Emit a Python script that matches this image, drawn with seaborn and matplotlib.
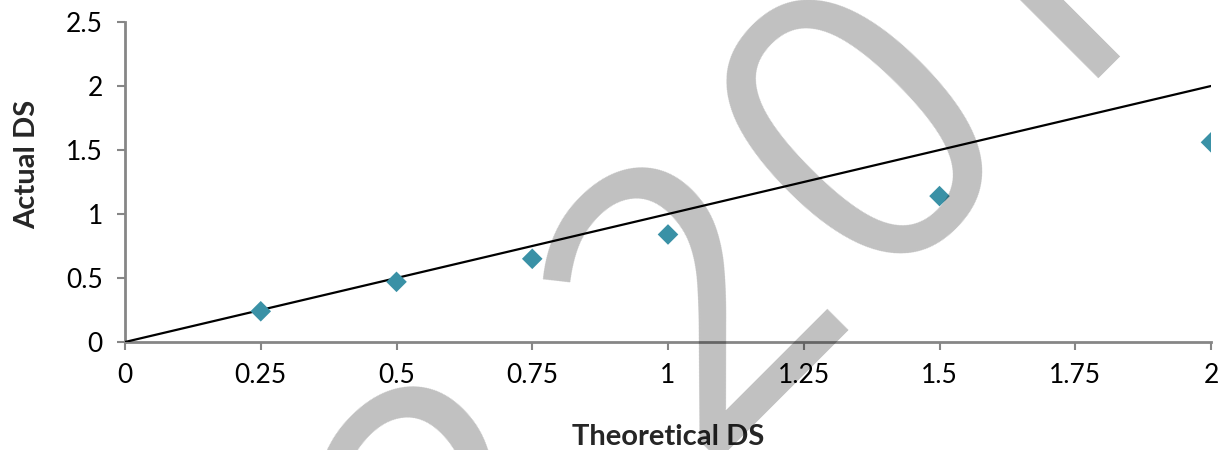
import matplotlib
matplotlib.use("Agg")
import matplotlib.pyplot as plt
import seaborn as sns
import pandas as pd

# Degree of substitution: theoretical vs. measured
theoretical_ds = [0.25, 0.5, 0.75, 1.0, 1.5, 2.0]
actual_ds = [0.24, 0.47, 0.65, 0.84, 1.14, 1.56]

# Reference line y = x
ref_x = [0.0, 2.0]
ref_y = [0.0, 2.0]

x_ticks = [0, 0.25, 0.5, 0.75, 1, 1.25, 1.5, 1.75, 2]
x_tick_labels = ["0", "0.25", "0.5", "0.75", "1", "1.25", "1.5", "1.75", "2"]
y_ticks = [0, 0.5, 1, 1.5, 2, 2.5]
y_tick_labels = ["0", "0.5", "1", "1.5", "2", "2.5"]

watermark_chars = ["2", "2", "0", "1", "7"]

sns.set_theme(style="white")
plt.rcParams["font.family"] = ["Lato", "DejaVu Sans"]

points = pd.DataFrame({"Theoretical DS": theoretical_ds, "Actual DS": actual_ds})
line = pd.DataFrame({"x": ref_x, "y": ref_y})

W, H = 1221, 450
fig = plt.figure(figsize=(W / 100, H / 100), dpi=100)
ax = fig.add_axes([125 / W, 1 - 342 / H, 1086 / W, 320 / H])

sns.lineplot(data=line, x="x", y="y", ax=ax, color="black", linewidth=1.6, zorder=2)
sns.scatterplot(data=points, x="Theoretical DS", y="Actual DS", ax=ax,
                marker="D", s=110, color="#3A91A6", edgecolor="none", zorder=3)

ax.set_xlim(0, 2)
ax.set_ylim(0, 2.5)
ax.set_xticks(x_ticks)
ax.set_xticklabels(x_tick_labels)
ax.set_yticks(y_ticks)
ax.set_yticklabels(y_tick_labels)

for side in ("top", "right"):
    ax.spines[side].set_visible(False)
for side in ("left", "bottom"):
    ax.spines[side].set_color("#868686")
    ax.spines[side].set_linewidth(2)
    ax.spines[side].set_zorder(1)

ax.tick_params(axis="both", which="major", direction="out", length=6, width=1.5,
               color="#868686", labelsize=19, labelcolor="black")
ax.tick_params(axis="x", bottom=True, pad=9)
ax.tick_params(axis="y", left=True, pad=10)

ax.set_xlabel("Theoretical DS", fontsize=21, fontweight="bold")
ax.set_ylabel("Actual DS", fontsize=21, fontweight="bold")
ax.xaxis.set_label_coords(0.5, -0.255)
ax.yaxis.set_label_coords(-0.078, 0.556)
ax.grid(False)

# Large translucent watermark, one glyph at a time along a 45-degree baseline
anchors = [(550, 600), (779, 381), (948, 212), (1092, 50), (1262, -110)]
for ch, (px, py) in zip(watermark_chars, anchors):
    fig.text(px / W, 1 - py / H, ch, fontsize=283, color="black", alpha=0.247,
             rotation=45, rotation_mode="anchor", ha="center", va="baseline",
             family="Open Sans", zorder=10)

fig.savefig("out.png", dpi=100)
